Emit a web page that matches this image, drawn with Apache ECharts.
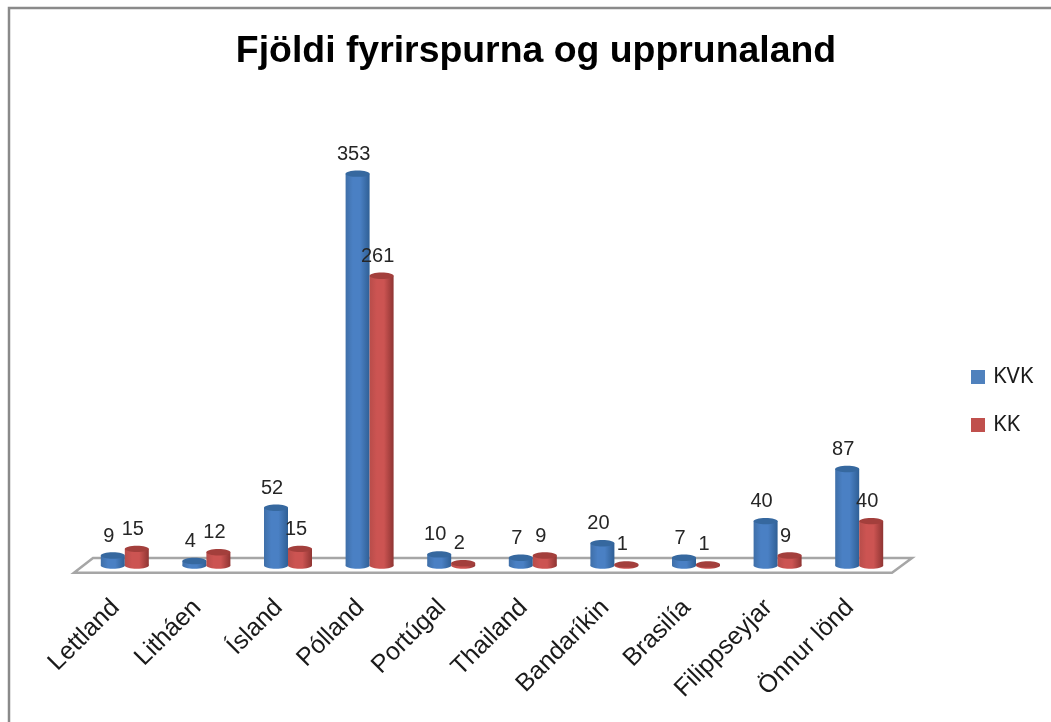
<!DOCTYPE html>
<html>
<head>
<meta charset="utf-8">
<style>
  html, body { margin: 0; padding: 0; background: #fff; }
  #chart { width: 1051px; height: 722px; }
</style>
<script src="https://cdn.jsdelivr.net/npm/echarts@6/dist/echarts.min.js"></script>
</head>
<body>
<div id="chart"></div>
<script>
var categories = ['Lettland', 'Litháen', 'Ísland', 'Pólland', 'Portúgal', 'Thailand', 'Bandaríkin', 'Brasilía', 'Filippseyjar', 'Önnur lönd'];
var kvk = [9, 4, 52, 353, 10, 7, 20, 7, 40, 87];
var kk = [15, 12, 15, 261, 2, 9, 1, 1, 9, 40];

var font = '"Liberation Sans", Arial, sans-serif';

// cylinder: body + bottom cap + top cap + value label
function cylinder(side, colors) {
  return function (params, api) {
    var base = api.coord([api.value(0), 0]);
    var top = api.coord([api.value(0), api.value(1)]);
    var w = 24, ry = 3.2;
    var cx = base[0] + side * 12;
    var body = new echarts.graphic.LinearGradient(0, 0, 1, 0, [
      { offset: 0, color: colors[0] },
      { offset: 0.3, color: colors[1] },
      { offset: 0.6, color: colors[1] },
      { offset: 1, color: colors[2] }
    ]);
    return {
      type: 'group',
      children: [
        { type: 'ellipse', shape: { cx: cx, cy: base[1], rx: w / 2, ry: ry }, style: { fill: body } },
        { type: 'rect', shape: { x: cx - w / 2, y: top[1], width: w, height: base[1] - top[1] }, style: { fill: body } },
        { type: 'ellipse', shape: { cx: cx, cy: top[1], rx: w / 2, ry: ry }, style: { fill: colors[3] } },
        {
          type: 'text', z2: 50,
          style: {
            x: cx - 4, y: top[1] - 19.5,
            text: String(api.value(1)),
            fill: '#262626', font: '20px ' + font,
            textAlign: 'center', textVerticalAlign: 'middle'
          }
        }
      ]
    };
  };
}

var chart = echarts.init(document.getElementById('chart'));
chart.setOption({
  animation: false,
  backgroundColor: '#fff',
  title: {
    text: 'Fjöldi fyrirspurna og upprunaland',
    left: 531, top: 28, textAlign: 'center',
    textStyle: { fontFamily: font, fontSize: 37.4, fontWeight: 'bold', color: '#000' }
  },
  legend: {
    orient: 'vertical', left: 966, top: 361,
    icon: 'rect', itemWidth: 14, itemHeight: 14, itemGap: 26,
    textStyle: { fontFamily: '"Noto Sans", sans-serif', fontSize: 22, color: '#1a1a1a', padding: [0, 0, 0, 3] },
    data: ['KVK', 'KK']
  },
  grid: { left: 84, width: 816, top: 121.5, height: 444 },
  xAxis: {
    type: 'category', data: categories,
    axisLine: { show: false }, axisTick: { show: false },
    axisLabel: {
      interval: 0, rotate: 45, margin: 29, padding: [0, 13, 0, 0],
      fontFamily: font, fontSize: 25, color: '#1a1a1a'
    }
  },
  yAxis: {
    type: 'value', min: 0, max: 400,
    show: false, splitLine: { show: false }
  },
  graphic: [
    {
      type: 'polyline', z: 0,
      shape: { points: [[9, 722], [9, 8], [1051, 8]] },
      style: { fill: null, stroke: '#8a8a8a', lineWidth: 2.5 }
    },
    {
      type: 'polygon', z: 0,
      shape: { points: [[74, 572.7], [93, 558], [912, 558], [892, 572.7]] },
      style: { fill: '#fff', stroke: '#a6a6a6', lineWidth: 2.5 }
    }
  ],
  series: [
    {
      name: 'KVK', type: 'custom', z: 3,
      itemStyle: { color: '#4f81bd' },
      encode: { x: 0, y: 1 },
      data: kvk.map(function (v, i) { return [i, v]; }),
      renderItem: cylinder(-1, ['#3f6fa8', '#4a80c4', '#2f5f95', '#36689f'])
    },
    {
      name: 'KK', type: 'custom', z: 3,
      itemStyle: { color: '#c0504d' },
      encode: { x: 0, y: 1 },
      data: kk.map(function (v, i) { return [i, v]; }),
      renderItem: cylinder(1, ['#b84d4a', '#cc5452', '#8f3533', '#a33f3c'])
    }
  ]
});
</script>
</body>
</html>
